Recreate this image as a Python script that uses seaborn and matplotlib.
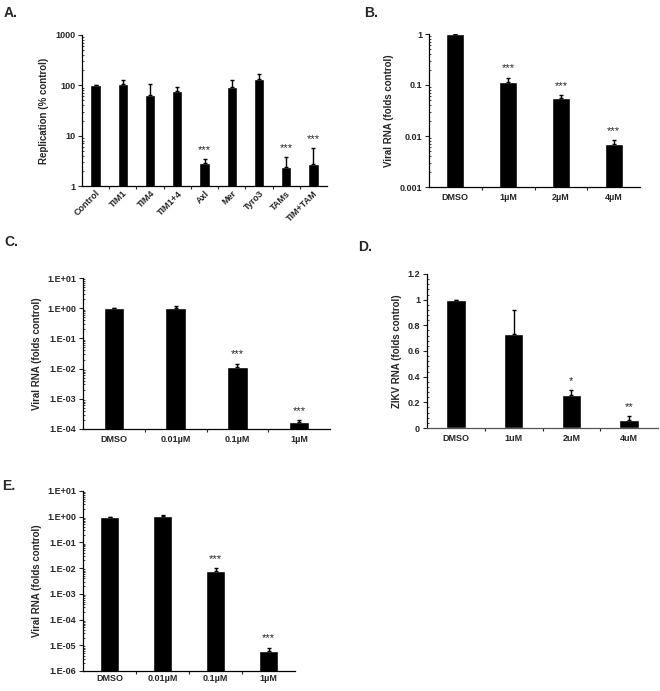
import numpy as np
import matplotlib
matplotlib.use("Agg")
import matplotlib.pyplot as plt
from matplotlib import ticker
import seaborn as sns

sns.set_style("white")
plt.rcParams['font.family'] = ['Liberation Sans', 'DejaVu Sans']
plt.rcParams['font.weight'] = 'bold'

# panel A - replication (% control)
a_cats = ['Control', 'TIM1', 'TIM4', 'TIM1+4', 'Axl', 'Mer', 'Tyro3', 'TAMs', 'TIM+TAM']
a_vals = [100, 105, 65, 78, 2.8, 92, 135, 2.4, 2.7]
a_top = [101, 130, 105, 92, 3.4, 125, 165, 3.8, 5.6]
a_sig = ['', '', '', '', '***', '', '', '***', '***']

# panel B - viral RNA
b_cats = ['DMSO', '1µM', '2µM', '4µM']
b_vals = [1.0, 0.112, 0.056, 0.0071]
b_top = [1.0, 0.14, 0.063, 0.0083]
b_sig = ['', '***', '***', '***']

# panel C
c_cats = ['DMSO', '0.01µM', '0.1µM', '1µM']
c_vals = [1.0, 1.0, 0.011, 0.00017]
c_top = [1.05, 1.22, 0.0145, 0.0002]
c_sig = ['', '', '***', '***']

# panel D - ZIKV RNA
d_cats = ['DMSO', '1uM', '2uM', '4uM']
d_vals = [1.0, 0.735, 0.26, 0.065]
d_top = [1.0, 0.92, 0.295, 0.09]
d_sig = ['', '', '*', '**']

# panel E
e_cats = ['DMSO', '0.01µM', '0.1µM', '1µM']
e_vals = [1.0, 1.05, 0.0078, 0.0000062]
e_top = [1.0, 1.15, 0.0102, 0.0000082]
e_sig = ['', '', '***', '***']

W, H = 660, 691
fig = plt.figure(figsize=(W / 100, H / 100), dpi=100)


def px_axes(left, top, right, bottom):
    return fig.add_axes([left / W, 1 - bottom / H, (right - left) / W, (bottom - top) / H])


def sci_fmt(v, pos):
    return "1.E{:+03d}".format(int(round(np.log10(v))))


def panel(ax, cats, vals, top, sig, ylabel, ylim, log=True, width=0.34, fmt=None):
    if log:
        ax.set_yscale('log')
    sns.barplot(x=cats, y=vals, color='black', width=width, saturation=1,
                errorbar=None, ax=ax)
    x = np.arange(len(cats))
    upper = np.array(top) - np.array(vals)
    ax.errorbar(x, vals, yerr=[np.zeros(len(vals)), upper], fmt='none',
                ecolor='black', elinewidth=1, capsize=1.5, capthick=1)
    for xi, t, s in zip(x, top, sig):
        if s:
            ax.annotate(s, (xi, t), xytext=(0, 3), textcoords='offset points',
                        ha='center', va='bottom', fontsize=8, fontweight='normal')
    ax.set_xlim(-0.5, len(cats) - 0.5)
    ax.set_ylim(*ylim)
    ax.set_ylabel(ylabel, fontsize=7, fontweight='bold')
    ax.set_xlabel('')
    for sp in ['top', 'right']:
        ax.spines[sp].set_visible(False)
    for sp in ['left', 'bottom']:
        ax.spines[sp].set_linewidth(0.9)
        ax.spines[sp].set_color('black')
    if log:
        # only decades inside the visible range, so no label falls off the figure
        lo, hi = int(round(np.log10(ylim[0]))), int(round(np.log10(ylim[1])))
        decades = 10.0 ** np.arange(lo, hi + 1)
        minors = [d * s for d in decades[:-1] for s in range(2, 10)]
        ax.yaxis.set_major_locator(ticker.FixedLocator(decades))
        ax.yaxis.set_minor_locator(ticker.FixedLocator(minors))
        ax.yaxis.set_minor_formatter(ticker.NullFormatter())
    if fmt is not None:
        ax.yaxis.set_major_formatter(ticker.FuncFormatter(fmt))
    ax.tick_params(axis='y', which='major', direction='out', length=3, width=0.8,
                   labelsize=6.5, left=True, pad=2)
    ax.tick_params(axis='y', which='minor', direction='in', length=1.5, width=0.6, left=True)
    ax.tick_params(axis='x', which='major', length=0, labelsize=6.5, pad=4)
    # Excel-style ticks between categories
    ax.xaxis.set_minor_locator(ticker.FixedLocator(np.arange(0.5, len(cats) - 0.5, 1)))
    ax.xaxis.set_minor_formatter(ticker.NullFormatter())
    ax.tick_params(axis='x', which='minor', direction='out', length=2.5, width=0.8, bottom=True)
    for lab in ax.get_xticklabels() + ax.get_yticklabels():
        lab.set_fontweight('bold')


g_fmt = lambda v, pos: "{:g}".format(v)

axA = px_axes(82, 35, 327, 186)
panel(axA, a_cats, a_vals, a_top, a_sig, 'Replication (% control)', (1, 1000),
      width=0.38, fmt=g_fmt)
plt.setp(axA.get_xticklabels(), rotation=45, ha='right', rotation_mode='anchor')
axA.tick_params(axis='x', which='major', pad=2)

axB = px_axes(429, 34, 640, 187)
panel(axB, b_cats, b_vals, b_top, b_sig, 'Viral RNA (folds control)', (0.001, 1),
      width=0.34, fmt=g_fmt)

axC = px_axes(83, 278, 330, 429)
panel(axC, c_cats, c_vals, c_top, c_sig, 'Viral RNA (folds control)', (1e-4, 10),
      width=0.33, fmt=sci_fmt)

axD = px_axes(427, 274, 658, 428)
panel(axD, d_cats, d_vals, d_top, d_sig, 'ZIKV RNA (folds control)', (0, 1.2),
      log=False, width=0.34, fmt=g_fmt)
axD.yaxis.set_major_locator(ticker.FixedLocator(np.round(np.arange(0, 1.21, 0.2), 1)))
axD.yaxis.set_minor_locator(ticker.FixedLocator(np.arange(0, 1.201, 0.04)))
axD.spines['bottom'].set_color('#555555')

axE = px_axes(83, 491, 295, 671)
panel(axE, e_cats, e_vals, e_top, e_sig, 'Viral RNA (folds control)', (1e-6, 10),
      width=0.34, fmt=sci_fmt)
axE.tick_params(axis='x', which='major', pad=2.5)

for lbl, xp, yp in [('A.', 4, 6), ('B.', 364, 6), ('C.', 4, 235), ('D.', 358, 240), ('E.', 2, 479)]:
    fig.text(xp / W, 1 - yp / H, lbl, fontsize=10, fontweight='bold', va='top', ha='left')

fig.savefig('out.png', dpi=100)
